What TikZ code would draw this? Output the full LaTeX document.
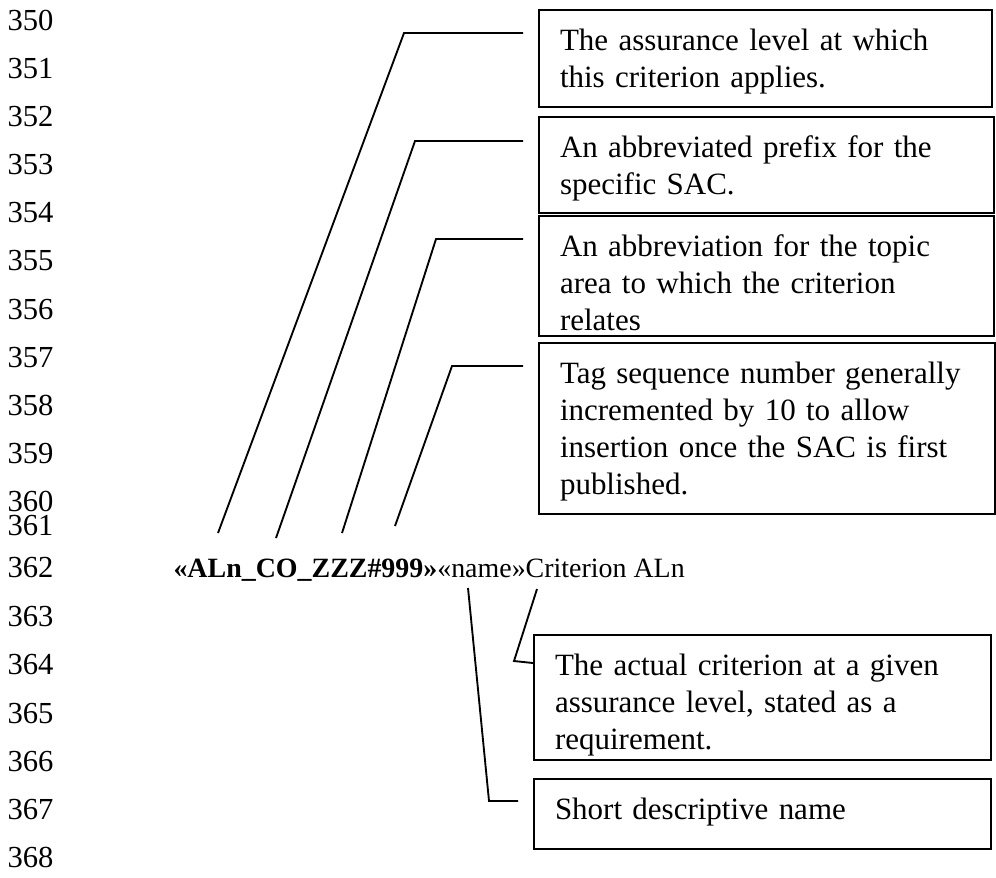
\documentclass[tikz,border=0pt]{standalone}
\usepackage{fontspec}
\setmainfont{Liberation Serif}
\tikzset{
    LINE_NUM/.style={anchor=base west, inner sep=0mm,
        font={\fontsize{11.5}{13}\selectfont}},
    TAG_TEXT/.style={anchor=base west, inner sep=0mm,
        font={\fontsize{10.5}{12}\selectfont}},
    NOTE_BOX/.style={draw=black, line width=0.75pt, anchor=north west,
        align=left, inner xsep=7.9pt, inner ysep=0pt, text height=15.4pt,
        font={\fontsize{11.65}{13.8}\selectfont}},
    EDGE/.style={draw=black, line width=0.7pt}
}
\pgfdeclarelayer{edgelayer}
\pgfdeclarelayer{nodelayer}
\pgfsetlayers{edgelayer,nodelayer,main}

\begin{document}
\begin{tikzpicture}[x=0.376pt, y=-0.376pt]
    \useasboundingbox (0,0) rectangle (996,877);
    \begin{pgfonlayer}{nodelayer}
        \node [LINE_NUM] (350) at (7, 30) {350};
        \node [LINE_NUM] (351) at (7, 78) {351};
        \node [LINE_NUM] (352) at (7, 126) {352};
        \node [LINE_NUM] (353) at (7, 174) {353};
        \node [LINE_NUM] (354) at (7, 222) {354};
        \node [LINE_NUM] (355) at (7, 270) {355};
        \node [LINE_NUM] (356) at (7, 319) {356};
        \node [LINE_NUM] (357) at (7, 367) {357};
        \node [LINE_NUM] (358) at (7, 415) {358};
        \node [LINE_NUM] (359) at (7, 463) {359};
        \node [LINE_NUM] (360) at (7, 511) {360};
        \node [LINE_NUM] (361) at (7, 535) {361};
        \node [LINE_NUM] (362) at (7, 577) {362};
        \node [LINE_NUM] (363) at (7, 626) {363};
        \node [LINE_NUM] (364) at (7, 674) {364};
        \node [LINE_NUM] (365) at (7, 723) {365};
        \node [LINE_NUM] (366) at (7, 771) {366};
        \node [LINE_NUM] (367) at (7, 819) {367};
        \node [LINE_NUM] (368) at (7, 867) {368};
        \node [TAG_TEXT] (0) at (173, 577) {{\bfseries «ALn\_CO\_ZZZ\#999»}«name»Criterion ALn};
        \node [NOTE_BOX, text width=154.5pt, text depth=21.1pt] (1) at (538, 9)
            {The assurance level at which\\this criterion applies.};
        \node [NOTE_BOX, text width=155.3pt, text depth=20.7pt] (2) at (538, 116)
            {An abbreviated prefix for the\\specific SAC.};
        \node [NOTE_BOX, text width=155.3pt, text depth=29.7pt] (3) at (538, 215)
            {An abbreviation for the topic\\area to which the criterion\\relates};
        \node [NOTE_BOX, text width=155.7pt, text depth=48.9pt] (4) at (538, 342)
            {Tag sequence number generally\\incremented by 10 to allow\\insertion once the SAC is first\\published.};
        \node [NOTE_BOX, text width=156.0pt, text depth=31.6pt] (5) at (533, 634)
            {The actual criterion at a given\\assurance level, stated as a\\requirement.};
        \node [NOTE_BOX, text width=156.0pt, text depth=10.9pt] (6) at (533, 778)
            {Short descriptive name};
        \coordinate (11) at (218, 533);
        \coordinate (12) at (404, 33);
        \coordinate (13) at (523, 33);
        \coordinate (21) at (276, 538);
        \coordinate (22) at (415, 141);
        \coordinate (23) at (523, 141);
        \coordinate (31) at (342, 533);
        \coordinate (32) at (436, 239);
        \coordinate (33) at (523, 239);
        \coordinate (41) at (395, 526);
        \coordinate (42) at (452, 366);
        \coordinate (43) at (523, 366);
        \coordinate (51) at (537, 589);
        \coordinate (52) at (514, 661);
        \coordinate (53) at (533, 663);
        \coordinate (61) at (468, 588);
        \coordinate (62) at (489, 801);
        \coordinate (63) at (518, 801);
    \end{pgfonlayer}
    \begin{pgfonlayer}{edgelayer}
        \draw[EDGE] (11) to (12) to (13);
        \draw[EDGE] (21) to (22) to (23);
        \draw[EDGE] (31) to (32) to (33);
        \draw[EDGE] (41) to (42) to (43);
        \draw[EDGE] (51) to (52) to (53);
        \draw[EDGE] (61) to (62) to (63);
    \end{pgfonlayer}
\end{tikzpicture}
\end{document}
